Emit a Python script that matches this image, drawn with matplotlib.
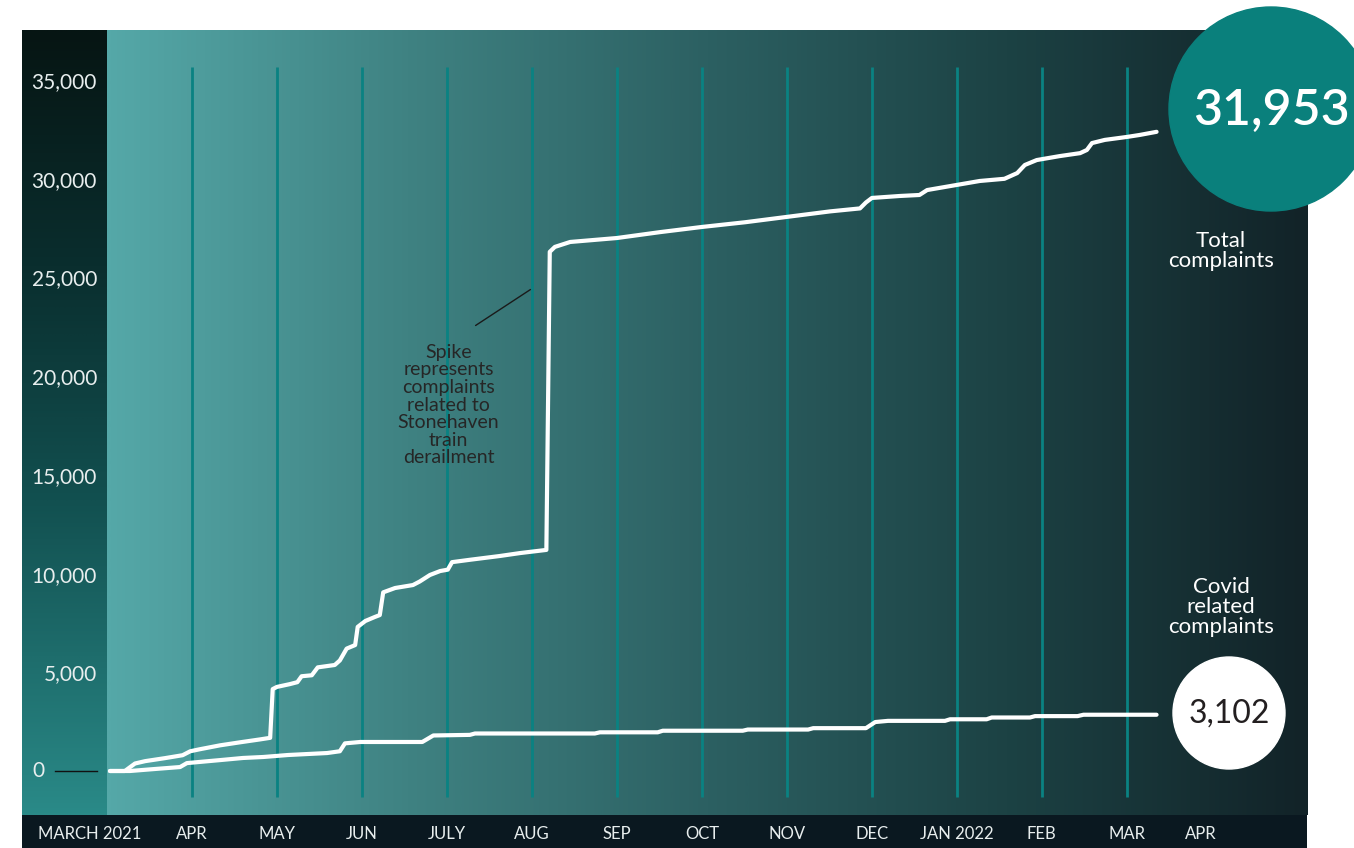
import numpy as np
import matplotlib
matplotlib.use('Agg')
import matplotlib.pyplot as plt
from matplotlib.colors import LinearSegmentedColormap
from matplotlib.patches import Circle

plt.rcParams['font.family'] = ['Lato', 'DejaVu Sans']

# ---- data (x = months since 1 March 2021) ----
total_m = [0.035, 0.21, 0.33, 0.45, 0.68, 0.89, 0.98, 1.09, 1.33, 1.56, 1.80, 1.92,
           1.95, 2.00, 2.15, 2.24, 2.29, 2.41, 2.48, 2.68, 2.74, 2.82, 2.92, 2.95,
           3.04, 3.15, 3.21, 3.25, 3.39, 3.60, 3.68, 3.80, 3.92, 4.01, 4.06, 4.27,
           4.62, 4.86, 5.17, 5.21, 5.27, 5.45, 6.00, 6.51, 7.00, 7.51, 8.00, 8.51,
           8.86, 8.93, 9.00, 9.33, 9.56, 9.65, 10.00, 10.27, 10.56, 10.71, 10.80,
           10.94, 11.21, 11.45, 11.53, 11.59, 11.74, 12.00, 12.15, 12.35]
total_v = [0, 0, 380, 500, 650, 800, 1000, 1100, 1300, 1450, 1600, 1680,
           4150, 4260, 4400, 4500, 4800, 4850, 5250, 5370, 5600, 6200, 6380, 7300,
           7600, 7800, 7900, 9050, 9270, 9420, 9600, 9930, 10130, 10200, 10580, 10700,
           10890, 11040, 11200, 26300, 26550, 26800, 27000, 27300, 27560, 27800, 28070, 28350,
           28500, 28800, 29030, 29130, 29180, 29430, 29690, 29890, 30000, 30290, 30700,
           30950, 31150, 31300, 31460, 31810, 31970, 32120, 32220, 32380]

covid_m = [0.035, 0.27, 0.56, 0.86, 0.94, 1.35, 1.60, 1.84, 2.13, 2.59, 2.74, 2.80,
           2.98, 3.71, 3.84, 4.27, 4.33, 5.74, 5.80, 6.48, 6.54, 7.48, 7.54, 8.25,
           8.31, 8.93, 9.04, 9.19, 9.86, 9.92, 10.35, 10.41, 10.86, 10.92, 11.42,
           11.49, 12.35]
covid_v = [0, 0, 100, 200, 400, 560, 660, 710, 810, 910, 1000, 1400,
           1470, 1470, 1800, 1830, 1900, 1900, 1960, 1960, 2040, 2040, 2100, 2100,
           2170, 2170, 2480, 2540, 2540, 2620, 2620, 2710, 2710, 2780, 2780,
           2850, 2850]

month_labels = ['MARCH 2021', 'APR', 'MAY', 'JUN', 'JULY', 'AUG', 'SEP', 'OCT',
                'NOV', 'DEC', 'JAN 2022', 'FEB', 'MAR', 'APR']
month_lines = list(range(1, 13))
y_ticks = [0, 5000, 10000, 15000, 20000, 25000, 30000, 35000]
total_label = '31,953'
covid_label = '3,102'
annotation = 'Spike\nrepresents\ncomplaints\nrelated to\nStonehaven\ntrain\nderailment'

# ---- figure ----
W, H = 1354, 848
fig = plt.figure(figsize=(W / 100, H / 100), dpi=100)
fig.patch.set_facecolor('white')

# bottom dark bar
bar = fig.add_axes([22 / W, 0, (1307 - 22) / W, 33 / H])
bar.set_facecolor('#0a1820')
bar.set_xticks([]); bar.set_yticks([])
for s in bar.spines.values():
    s.set_visible(False)
bar.set_zorder(0)

ax = fig.add_axes([22 / W, 1 - 815 / H, (1307 - 22) / W, (815 - 30) / H])
ax.set_zorder(1)
XMIN, XMAX = -1, 14.12
YMIN, YMAX = -2229, 37538
ax.set_xlim(XMIN, XMAX)
ax.set_ylim(YMIN, YMAX)
for s in ax.spines.values():
    s.set_visible(False)

# main horizontal gradient
cmap_main = LinearSegmentedColormap.from_list(
    'main', [(0.0, '#55a8a8'), (0.25, '#3f8282'), (0.5, '#2c6062'),
             (0.75, '#1c4244'), (1.0, '#122328')])
grad = np.linspace(0, 1, 512).reshape(1, -1)
ax.imshow(grad, cmap=cmap_main, extent=[0, XMAX, YMIN, YMAX], aspect='auto',
          zorder=0, interpolation='bilinear')

# left vertical gradient panel
cmap_left = LinearSegmentedColormap.from_list(
    'left', [(0.0, '#2a8a88'), (0.4, '#125050'), (0.7, '#0a2e2e'), (1.0, '#061513')])
vgrad = np.linspace(0, 1, 512).reshape(-1, 1)
ax.imshow(vgrad, cmap=cmap_left, extent=[XMIN, 0, YMIN, YMAX], aspect='auto',
          origin='lower', zorder=0, interpolation='bilinear')

# month vertical lines
ax.vlines(month_lines, -1317, 35660, colors='#0a8282', linewidth=2, zorder=1)

# data lines
ax.plot(total_m, total_v, color='white', lw=3, solid_joinstyle='round',
        solid_capstyle='round', zorder=3)
ax.plot(covid_m, covid_v, color='white', lw=3, solid_joinstyle='round',
        solid_capstyle='round', zorder=3)

# zero dash
ax.plot([-0.61, -0.12], [0, 0], color='#111111', lw=1, zorder=2)

# y ticks (zero label drawn separately, left of the dash)
ax.set_yticks(y_ticks)
ax.set_yticklabels(['' if v == 0 else f'{v:,}' for v in y_ticks])
ax.tick_params(axis='y', direction='in', length=0, pad=-54, labelsize=15,
               labelcolor='#e8eeee')
ax.text(-0.88, y_ticks[0], '0', ha='left', va='center', fontsize=15,
        color='#e8eeee', zorder=2)

# x ticks
xpos = [-0.2] + month_lines + [12.87]
ax.set_xticks(xpos)
ax.set_xticklabels(month_labels)
ax.tick_params(axis='x', length=0, pad=8, labelsize=12, labelcolor='#e8eeee')

# annotation
ax.annotate('', xy=(5.01, 24468), xytext=(4.31, 22492),
            arrowprops=dict(arrowstyle='-', color='#1a1a1a', lw=1), zorder=4)
ax.text(4.02, 18540, annotation, ha='center', va='center', fontsize=14,
        color='#262626', linespacing=1.04, zorder=4)

# overlay for circles and right labels
ov = fig.add_axes([0, 0, 1, 1])
ov.set_zorder(2)
ov.set_xlim(0, W)
ov.set_ylim(H, 0)
ov.axis('off')
ov.patch.set_alpha(0)
ov.add_patch(Circle((1271, 109), 102, color='#0a807c', zorder=1))
ov.text(1271, 110, total_label, ha='center', va='center', fontsize=36,
        color='white', weight='semibold', zorder=2)
ov.add_patch(Circle((1229, 713), 56, color='white', zorder=1))
ov.text(1229, 714, covid_label, ha='center', va='center', fontsize=23,
        color='#231f20', zorder=2)
ov.text(1221, 251, 'Total\ncomplaints', ha='center', va='center', fontsize=16,
        color='white', linespacing=1.03, zorder=2)
ov.text(1221, 607, 'Covid\nrelated\ncomplaints', ha='center', va='center',
        fontsize=16, color='white', linespacing=1.03, zorder=2)

fig.savefig('out.png', dpi=100, facecolor='white')
